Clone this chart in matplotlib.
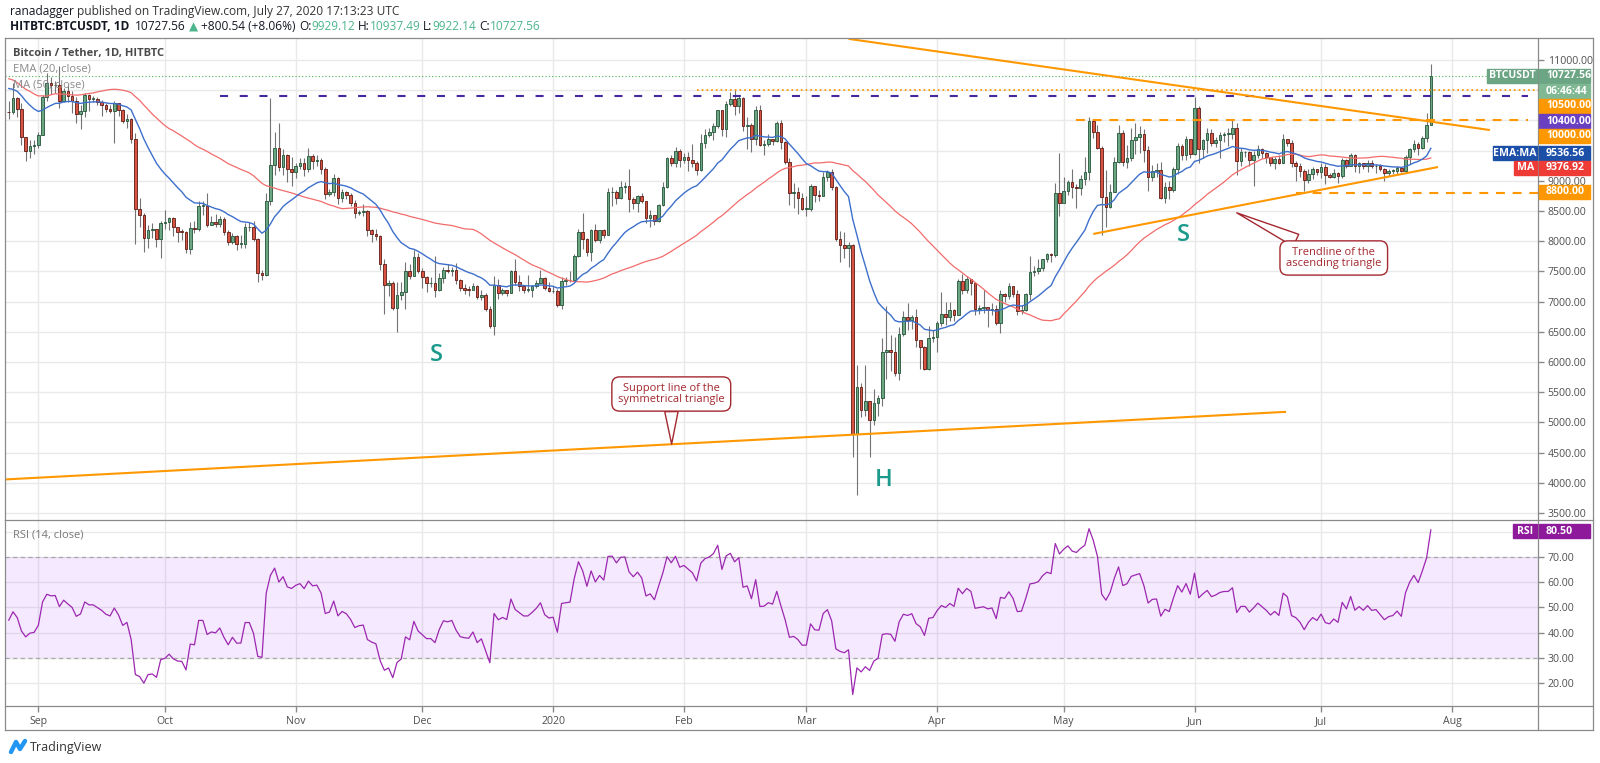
import numpy as np
import pandas as pd
import matplotlib
matplotlib.use("Agg")
import matplotlib.pyplot as plt
import matplotlib.dates as mdates
from matplotlib import font_manager
from matplotlib.lines import Line2D
from matplotlib.patches import Rectangle

# ---------------------------------------------------------------- data
# closes 6 Jul - 24 Aug 2019 (before the visible window), only used to warm up EMA / MA / RSI
warmup_close = [11210, 11450, 12300, 12570, 12100, 11340, 11800, 11380, 10260, 10870,
                9470, 9690, 10640, 10530, 10760, 10590, 10330, 9900, 9800, 9880,
                9850, 9480, 9540, 9510, 9590, 10080,
                10400, 10530, 10820, 10980, 11800, 11460, 11980, 11970, 11860, 11290,
                11560, 11380, 10880, 10030, 10300, 10350, 10220, 10330, 10920, 10770,
                10130, 10110, 10400, 10140]

first_day = "2019-08-25"

# daily candles 25 Aug 2019 - 27 Jul 2020 (open = previous close)
close = [
    10131, 10370, 10185, 9720, 9490, 9580, 9600,
    9760, 10380, 10620, 10580, 10590, 10320, 10490, 10400, 10320, 10110, 10160, 10420, 10360, 10360, 10310,
    10260, 10190, 10160, 10280, 10170, 9990, 10030, 9700, 8530, 8430, 8060, 8190, 8200, 8040, 8300,
    8320, 8380, 8230, 8160, 8150, 7870, 8220, 8200, 8590, 8590, 8270, 8310, 8290, 8360, 8160, 7990,
    8090, 7960, 7960, 8230, 8230, 8030, 7470, 7440, 8670, 9260, 9550, 9230, 9430, 9190, 9150,
    9250, 9300, 9200, 9410, 9320, 9340, 9200, 8780, 8810, 9040, 8720, 8810, 8760, 8640, 8460,
    8490, 8500, 8180, 8120, 8080, 7620, 7270, 7300, 6900, 7110, 7160, 7500, 7420, 7740, 7500,
    7400, 7300, 7300, 7200, 7390, 7530, 7510, 7530, 7350, 7220, 7200, 7190, 7260, 7070, 7110, 6880,
    6590, 7280, 7150, 7190, 7150, 7510, 7320, 7260, 7200, 7200, 7250, 7310, 7390, 7220, 7170,
    7180, 6950, 7340, 7350, 7360, 7760, 8160, 8040, 7820, 8190, 8020, 8180, 8110, 8810, 8820, 8720,
    8900, 8910, 8700, 8630, 8740, 8660, 8390, 8430, 8340, 8600, 8900, 9380, 9290, 9500, 9340,
    9390, 9340, 9290, 9180, 9620, 9750, 9800, 9900, 10170, 9850, 10270, 10360, 10240, 10370, 9900,
    9930, 9700, 10180, 9600, 9610, 9690, 9660, 9960, 9650, 9310, 8790, 8810, 8710, 8530,
    8530, 8920, 8760, 8750, 9070, 9150, 8900, 8040, 7940, 7890, 7940, 4800, 5580, 5200, 5360, 5040,
    5320, 5400, 6170, 6200, 6170, 5820, 6460, 6740, 6690, 6750, 6370, 6240, 5880, 6400, 6420,
    6640, 6800, 6740, 6860, 6780, 7340, 7200, 7370, 7300, 6870, 6890, 6910, 6860, 6880, 6640,
    7120, 7100, 7260, 7130, 6850, 6860, 7130, 7490, 7510, 7550, 7700, 7790, 7770, 8800, 8630,
    8830, 8980, 8900, 8880, 9030, 9150, 9990, 9810, 9540, 8730, 8570, 8810, 9310, 9790, 9310, 9380,
    9670, 9730, 9780, 9510, 9060, 9170, 9180, 8720, 8900, 8840, 9200, 9580, 9430, 9700, 9450,
    10200, 9520, 9670, 9790, 9620, 9670, 9750, 9780, 9780, 9880, 9320, 9470, 9470, 9340, 9430,
    9530, 9460, 9390, 9300, 9360, 9290, 9690, 9630, 9290, 9250, 9160, 9010, 9120, 9190, 9140,
    9230, 9090, 9070, 9130, 9080, 9340, 9250, 9430, 9240, 9290, 9240, 9300, 9240, 9250, 9190,
    9130, 9160, 9170, 9210, 9160, 9390, 9520, 9610, 9550, 9710, 9927.02, 10727.56,
]
high = [
    10320, 10620, 10380, 10290, 9720, 9680, 9680,
    9800, 10420, 10780, 10720, 10660, 10900, 10540, 10580, 10480, 10390, 10250, 10450, 10440, 10410, 10380,
    10340, 10280, 10260, 10320, 10280, 10190, 10100, 10040, 9790, 8710, 8470, 8270, 8300, 8210, 8340,
    8520, 8400, 8400, 8240, 8200, 8170, 8320, 8340, 8670, 8660, 8800, 8420, 8450, 8420, 8400, 8190,
    8130, 8110, 8100, 8300, 8320, 8330, 8050, 7520, 8800, 10370, 9800, 9950, 9530, 9450, 9390,
    9290, 9370, 9370, 9550, 9450, 9420, 9370, 9220, 8870, 9110, 9060, 8860, 8830, 8790, 8690,
    8520, 8620, 8510, 8210, 8210, 8110, 7700, 7350, 7340, 7320, 7320, 7650, 7620, 7860, 7810,
    7560, 7430, 7400, 7750, 7480, 7580, 7620, 7570, 7640, 7380, 7290, 7260, 7310, 7280, 7200, 7140,
    6920, 7430, 7370, 7220, 7190, 7520, 7700, 7440, 7280, 7440, 7280, 7360, 7520, 7400, 7320,
    7250, 7210, 7400, 7400, 7500, 7790, 8210, 8460, 8050, 8200, 8280, 8190, 8200, 8880, 8900, 8850,
    9000, 8980, 9190, 8730, 8770, 8800, 8670, 8520, 8430, 8620, 8980, 9400, 9430, 9560, 9520,
    9460, 9480, 9610, 9330, 9770, 9860, 9880, 9950, 10180, 10180, 10320, 10470, 10520, 10410, 10390,
    10060, 9950, 10240, 10260, 9680, 9770, 9700, 9990, 10000, 9660, 9370, 8970, 8900, 8800,
    8750, 8950, 8890, 8850, 9150, 9180, 9200, 8910, 8170, 8150, 7980, 7960, 5950, 5650, 5950, 5360,
    5550, 5450, 6390, 6920, 6440, 6410, 6580, 6840, 6970, 6780, 6880, 6300, 6260, 6600, 6530,
    6680, 7160, 7000, 6990, 6880, 7370, 7460, 7420, 7380, 7320, 6950, 7190, 6910, 6980, 6940,
    7200, 7150, 7300, 7260, 7200, 6950, 7150, 7760, 7590, 7700, 7700, 7800, 7800, 8960, 9460,
    9070, 9010, 9190, 8950, 9100, 9400, 10060, 10000, 9920, 9580, 9180, 8950, 9400, 9920, 9840, 9590,
    9880, 9950, 9900, 9850, 9570, 9260, 9300, 9310, 8980, 9000, 9230, 9620, 9610, 9740, 9700,
    10390, 10240, 9690, 9870, 9850, 9720, 9800, 9800, 9870, 10000, 9950, 9550, 9500, 9490, 9500,
    9590, 9550, 9470, 9400, 9390, 9420, 9770, 9690, 9670, 9330, 9290, 9200, 9190, 9230, 9200,
    9290, 9270, 9130, 9190, 9140, 9370, 9360, 9460, 9450, 9310, 9300, 9340, 9340, 9280, 9270,
    9210, 9190, 9200, 9240, 9230, 9430, 9540, 9670, 9650, 9740, 10120, 10937.49,
]
low = [
    10020, 10110, 10050, 9600, 9330, 9380, 9440,
    9540, 9750, 10320, 10440, 10450, 10200, 10300, 10300, 10120, 9950, 9860, 10050, 10160, 10300, 10260,
    10080, 10140, 10120, 9630, 10080, 9950, 9880, 9620, 7950, 8230, 7820, 7880, 8060, 7900, 7720,
    8200, 8190, 8080, 7990, 8020, 7800, 7780, 8130, 8170, 8430, 8230, 8260, 8230, 8240, 8110, 7940,
    7960, 7860, 7880, 7880, 8170, 8000, 7320, 7350, 7420, 8600, 9100, 9170, 9100, 8980, 8920,
    9050, 9200, 9080, 9140, 9200, 9250, 9110, 8700, 8750, 8740, 8610, 8650, 8700, 8580, 8380,
    8440, 8410, 8080, 7990, 8020, 7520, 6800, 7100, 6860, 6500, 7020, 6880, 7380, 7430, 7480,
    7220, 7160, 7240, 7080, 7170, 7310, 7470, 7430, 7290, 7180, 7130, 7100, 7200, 7040, 7030, 6840,
    6560, 6440, 7050, 7110, 7100, 7140, 7270, 7170, 7140, 7160, 7070, 7230, 7300, 7190, 7160,
    7150, 6910, 6870, 7280, 7320, 7350, 7730, 7870, 7760, 7680, 7980, 7970, 8060, 8100, 8580, 8610,
    8700, 8800, 8480, 8530, 8480, 8640, 8300, 8240, 8270, 8320, 8590, 8880, 9240, 9230, 9220,
    9300, 9170, 9230, 9100, 9160, 9550, 9720, 9680, 9870, 9740, 9720, 10230, 10090, 10130, 9820,
    9530, 9470, 9600, 9570, 9430, 9570, 9590, 9650, 9520, 9270, 8600, 8550, 8450, 8520,
    8420, 8500, 8650, 8670, 8740, 8990, 8850, 8000, 7650, 7720, 7580, 4430, 3800, 5090, 5110, 4430,
    4950, 5100, 5270, 5720, 5850, 5770, 5700, 6430, 6530, 6540, 6250, 5880, 5870, 5860, 6330,
    6160, 6600, 6620, 6680, 6680, 6780, 7120, 7150, 7110, 6770, 6790, 6810, 6580, 6780, 6610,
    6480, 7000, 7040, 7070, 6780, 6800, 6850, 7020, 7430, 7460, 7500, 7650, 7660, 7740, 8420,
    8630, 8760, 8720, 8550, 8760, 8930, 9020, 9710, 9520, 8100, 8230, 8550, 8810, 9290, 9250, 9210,
    9320, 9450, 9460, 9310, 8830, 8990, 9070, 8700, 8640, 8700, 8820, 9110, 9350, 9340, 9370,
    9420, 9290, 9370, 9460, 9580, 9560, 9380, 9640, 9570, 9690, 9100, 9240, 9400, 9250, 8910,
    9370, 9380, 9290, 9240, 9200, 9280, 9290, 9580, 9220, 9000, 9060, 8830, 8960, 9030, 9090,
    9040, 8940, 9040, 9050, 8960, 9050, 9210, 9240, 9150, 9130, 9190, 9150, 9210, 9130, 9170,
    9000, 9080, 9110, 9120, 9140, 9150, 9280, 9480, 9430, 9520, 9650, 9922.14,
]

month_starts = ["2019-09-01", "2019-10-01", "2019-11-01", "2019-12-01", "2020-01-01", "2020-02-01",
                "2020-03-01", "2020-04-01", "2020-05-01", "2020-06-01", "2020-07-01", "2020-08-01"]
month_labels = ["Sep", "Oct", "Nov", "Dec", "2020", "Feb", "Mar", "Apr", "May", "Jun", "Jul", "Aug"]

price_ticks = list(range(3500, 11001, 500))
rsi_ticks = [20, 30, 40, 50, 60, 70, 80]

last_price = 10727.56
level_purple = 10400
level_orange_dot = 10500
level_orange = 10000
level_support = 8800

# drawn trendlines (date, price)
falling_line = (["2020-03-11", "2020-08-10"], [11350, 9840])
rising_line = (["2020-05-08", "2020-07-28 17:00"], [8120, 9228])
sym_support = (["2019-08-24", "2020-06-22 17:00"], [4055, 5175])

ema_label, ma_label, rsi_label = "9536.56", "9376.92", "80.50"

assert len(close) == len(high) == len(low) == 338

# ---------------------------------------------------------------- indicators
all_close = pd.Series(np.r_[warmup_close, close], dtype=float)
ema20 = all_close.ewm(span=20, adjust=False).mean().values[-len(close):]
ma50 = all_close.rolling(50).mean().values[-len(close):]
delta = all_close.diff()
up = delta.clip(lower=0).ewm(alpha=1 / 14, adjust=False).mean()
down = (-delta.clip(upper=0)).ewm(alpha=1 / 14, adjust=False).mean()
rsi = (100 - 100 / (1 + up / down)).values[-len(close):]

close = np.array(close, dtype=float)
high = np.array(high, dtype=float)
low = np.array(low, dtype=float)
opens = np.r_[warmup_close[-1], close[:-1]]

dates = pd.date_range(first_day, periods=len(close), freq="D")
x = mdates.date2num(dates)
dnum = lambda s: mdates.date2num(pd.Timestamp(s))

# ---------------------------------------------------------------- figure
names = {f.name for f in font_manager.fontManager.ttflist}
base_font = "Open Sans" if "Open Sans" in names else "DejaVu Sans"
plt.rcParams["font.family"] = [base_font, "DejaVu Sans"]
plt.rcParams["lines.scale_dashes"] = False

W, H = 1600, 763
fig = plt.figure(figsize=(W / 100, H / 100), dpi=100)
fx = lambda px: px / W
fy = lambda py: 1 - py / H

AX_L, AX_R, TOP, SEP, BOT, FRAME_B, FRAME_R = 5, 1538, 38, 520, 706, 730, 1593
ax = fig.add_axes([fx(AX_L), fy(SEP), (AX_R - AX_L) / W, (SEP - TOP) / H])
ax_rsi = fig.add_axes([fx(AX_L), fy(BOT), (AX_R - AX_L) / W, (BOT - SEP) / H], sharex=ax)

sep1 = dnum("2019-09-01")
ax.set_xlim(sep1 - 7.9, sep1 + 355.4)
ax.set_ylim(3384, 11364)
ax_rsi.set_ylim(10.9, 84.7)

grid_c = "#e9e9ea"
tick_c = "#4f4f4f"
for a in (ax, ax_rsi):
    for s in a.spines.values():
        s.set_visible(False)
    a.set_xticks([dnum(m) for m in month_starts])
    a.grid(True, color=grid_c, lw=1.0, zorder=0)
    a.set_axisbelow(True)
    a.yaxis.tick_right()
    a.tick_params(axis="y", length=4, width=1, color="#8a8a8a", labelsize=7.6,
                  labelcolor=tick_c, pad=3)

ax.set_yticks(price_ticks)
ax.set_yticklabels(["" if v in (9500, 10000, 10500) else f"{v:.2f}" for v in price_ticks])
ax.tick_params(axis="x", length=0, labelbottom=False)

ax_rsi.set_yticks(rsi_ticks)
ax_rsi.set_yticklabels(["" if v == 80 else f"{v:.2f}" for v in rsi_ticks])
ax_rsi.set_xticklabels(month_labels)
ax_rsi.tick_params(axis="x", length=4, width=1, color="#8a8a8a", labelsize=7.6,
                   labelcolor=tick_c, pad=3)

# ---------------------------------------------------------------- candles
up_c, up_e = "#6ba583", "#225437"
dn_c, dn_e = "#d75442", "#5b1a13"
is_up = close >= opens
ax.vlines(x, low, high, color="#737375", lw=0.8, zorder=2)
body = np.maximum(np.abs(close - opens), 12)
ax.bar(x, body, bottom=np.minimum(opens, close), width=0.62,
       color=np.where(is_up, up_c, dn_c), edgecolor=np.where(is_up, up_e, dn_e),
       linewidth=0.6, zorder=3)

ax.plot(x, ma50, color="#f26b6b", lw=0.9, zorder=4)
ax.plot(x, ema20, color="#3d6fcc", lw=1.0, zorder=4)

# horizontal levels
right_end = sep1 + 355.4
ax.plot([x[0] - 1, right_end], [last_price] * 2, color="#4caf50", lw=0.8, dashes=(0.8, 1.6), zorder=4)
ax.plot([dnum("2019-10-14"), dnum("2020-08-19")], [level_purple] * 2, color="#4527a0", lw=1.5,
        dashes=(5.8, 8.4), zorder=5)
ax.plot([dnum("2020-02-04"), right_end], [level_orange_dot] * 2, color="#ff9800", lw=1.3,
        dashes=(1.2, 2.2), zorder=5)
ax.plot([dnum("2020-05-04"), dnum("2020-08-19")], [level_orange] * 2, color="#ff9800", lw=1.5,
        dashes=(6.4, 5.6), zorder=5)
ax.plot([dnum("2020-06-25"), right_end], [level_support] * 2, color="#ff9800", lw=1.5,
        dashes=(6.4, 5.6), zorder=5)

# trendlines
for dts, prs in (falling_line, rising_line, sym_support):
    ax.plot([dnum(d) for d in dts], prs, color="#ff9800", lw=1.5, zorder=5, solid_capstyle="butt")

# head & shoulders letters
teal = "#1b998b"
for lbl, d, p in (("S", "2019-12-04 05:00", 6116), ("H", "2020-03-19 05:00", 4046),
                  ("S", "2020-05-29 10:00", 8110)):
    ax.text(dnum(d), p, lbl, color=teal, fontsize=17, fontweight="semibold",
            ha="center", va="center", zorder=6)

# callouts
red = "#a3282f"
for txt, xy, xytext in (("Support line of the\nsymmetrical triangle",
                         ("2020-01-29 02:00", 4640), ("2020-01-29", 5470)),
                        ("Trendline of the\nascending triangle",
                         ("2020-06-11", 8470), ("2020-07-04", 7722))):
    ax.annotate(txt, xy=(dnum(xy[0]), xy[1]), xytext=(dnum(xytext[0]), xytext[1]),
                ha="center", va="center", fontsize=8, color=red, linespacing=1.0,
                bbox=dict(boxstyle="round,pad=0.55,rounding_size=0.7", fc="white", ec=red, lw=1.0),
                arrowprops=dict(arrowstyle="wedge,tail_width=1.2", fc="white", ec=red, lw=1.0,
                                shrinkA=0, shrinkB=0),
                zorder=7)

# pane legends
ax.text(0.005, 0.968, "Bitcoin / Tether, 1D, HITBTC", transform=ax.transAxes, fontsize=8,
        fontweight="bold", color="#4a4a4a", va="center", zorder=8)
ax.text(0.005, 0.935, "EMA (20, close)", transform=ax.transAxes, fontsize=8,
        color="#8a8a8a", va="center", zorder=8)
ax.text(0.005, 0.903, "MA (50, close)", transform=ax.transAxes, fontsize=8,
        color="#8a8a8a", va="center", zorder=8)

# ---------------------------------------------------------------- RSI pane
ax_rsi.axhspan(30, 70, color="#9915ff", alpha=0.09, lw=0, zorder=1)
for lvl in (30, 70):
    ax_rsi.axhline(lvl, color="#a8a8a8", lw=0.9, dashes=(3, 2.5), zorder=2)
ax_rsi.plot(x, rsi, color="#9c27b0", lw=0.9, zorder=3)
ax_rsi.text(0.005, 0.92, "RSI (14, close)", transform=ax_rsi.transAxes, fontsize=8,
            color="#777777", va="center")

# ---------------------------------------------------------------- frame lines
fc = "#8a8a8a"
for (x0, y0, x1, y1) in ((AX_L, TOP, FRAME_R, TOP), (AX_L, FRAME_B, FRAME_R, FRAME_B),
                         (AX_L, TOP, AX_L, FRAME_B), (FRAME_R, TOP, FRAME_R, FRAME_B),
                         (AX_R, TOP, AX_R, FRAME_B), (AX_L, SEP, FRAME_R, SEP),
                         (AX_L, BOT, FRAME_R, BOT)):
    fig.add_artist(Line2D([fx(x0), fx(x1)], [fy(y0), fy(y1)], color=fc, lw=0.9,
                          transform=fig.transFigure, zorder=10))

# ---------------------------------------------------------------- axis price boxes
def box_right(y, txt, col):
    fig.add_artist(Rectangle((fx(AX_R + 1), fy(y + 7)), (1590 - AX_R - 1) / W, 14 / H,
                             transform=fig.transFigure, fc=col, ec=col, zorder=11))
    fig.text(fx(1546), fy(y), txt, color="white", fontsize=7.6, fontweight="bold",
             va="center", ha="left", zorder=12)

def box_left(y, x0, txt, col):
    fig.add_artist(Rectangle((fx(x0), fy(y + 7)), (AX_R - 1 - x0) / W, 14 / H,
                             transform=fig.transFigure, fc=col, ec=col, zorder=11))
    fig.text(fx((x0 + AX_R - 1) / 2), fy(y), txt, color="white", fontsize=7.6,
             fontweight="bold", va="center", ha="center", zorder=12)

green_box, orange, purple, navy, red_box, rsi_c = "#6ba583", "#ff9800", "#6a3fc0", "#1c4fa8", "#ef3b36", "#8e1a9b"
box_left(76, 1487, "BTCUSDT", green_box)
box_right(76, f"{last_price:.2f}", green_box)
box_right(91, "06:46:44", "#7fb893")
box_right(106, f"{level_orange_dot:.2f}", orange)
box_right(121, f"{level_purple:.2f}", purple)
box_right(136, f"{level_orange:.2f}", orange)
box_left(153, 1493, "EMA:MA", navy)
box_right(153, ema_label, navy)
box_left(168, 1514, "MA", red_box)
box_right(168, ma_label, red_box)
box_right(192, f"{level_support:.2f}", orange)
box_left(531, 1513, "RSI", rsi_c)
box_right(531, rsi_label, rsi_c)

# ---------------------------------------------------------------- header
fig.canvas.draw()
renderer = fig.canvas.get_renderer()
dark, mint = "#131722", "#4db58c"

def write_parts(xp, yp, parts, size):
    for s, col, wt, gap in parts:
        t = fig.text(fx(xp), fy(yp), s, color=col, fontsize=size, fontweight=wt,
                     va="center", ha="left")
        xp += t.get_window_extent(renderer).width + gap

write_parts(10, 12, [("ranadagger", dark, "normal", 3),
                     ("published on TradingView.com, July 27, 2020 17:13:23 UTC", "#333333", "normal", 0)], 8.6)
write_parts(10, 27, [("HITBTC:BTCUSDT, 1D", dark, "bold", 6),
                     ("10727.56", dark, "normal", 3), ("\u25b2", mint, "normal", 3),
                     ("+800.54 (+8.06%)", dark, "normal", 3),
                     ("O:", dark, "normal", 0), ("9929.12", mint, "normal", 3),
                     ("H:", dark, "normal", 0), ("10937.49", mint, "normal", 3),
                     ("L:", dark, "normal", 0), ("9922.14", mint, "normal", 3),
                     ("C:", dark, "normal", 0), ("10727.56", mint, "normal", 0)], 8.6)

# TradingView mark
fig.add_artist(Line2D([fx(11), fx(16), fx(20), fx(25)], [fy(752), fy(742), fy(749), fy(741)],
                      color="#2196f3", lw=3.2, solid_capstyle="round", transform=fig.transFigure))
fig.text(fx(30), fy(747), "TradingView", fontsize=9, color="#333333", va="center", ha="left")

fig.savefig("out.png", dpi=100, facecolor="white")
